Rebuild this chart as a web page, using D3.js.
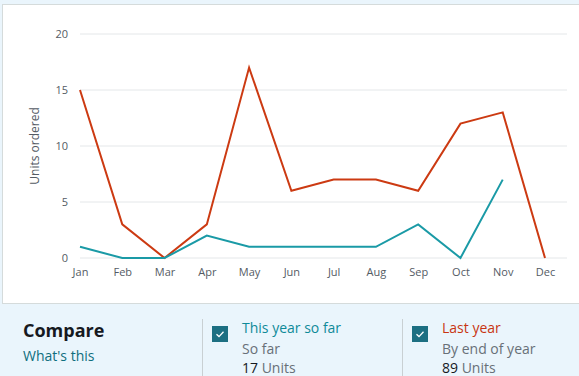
<!DOCTYPE html>
<html lang="en">
<head>
<meta charset="utf-8">
<title>Units ordered</title>
<style>
  body { margin:0; background:#eaf5fc; font-family:"Open Sans", sans-serif; width:579px; height:376px; overflow:hidden; position:relative; }
  .panel { position:absolute; left:2px; top:4px; width:600px; height:298px; background:#fff; border:1px solid #d5dbdb; }
  .chart { position:absolute; left:0; top:0; }
  .axis text { font:11px "Open Sans", sans-serif; fill:#545b64; }
  .grid line { stroke:#e4e7e9; }
  .foot { position:absolute; top:304px; left:0; width:579px; height:72px; }
  .foot .title { position:absolute; left:23px; top:14px; font:bold 18px "Open Sans", sans-serif; color:#16191f; }
  .foot .link { position:absolute; left:23px; top:42px; font:14px "Open Sans", sans-serif; color:#0f6e7e; }
  .div { position:absolute; top:15px; width:1px; height:60px; background:#c9d0d3; }
  .box { position:absolute; top:22px; width:16px; height:16px; background:#1c6f82; }
  .box svg { display:block; }
  .lbl { position:absolute; font:14px "Open Sans", sans-serif; white-space:nowrap; }
</style>
</head>
<body>
<div class="panel"></div>
<svg class="chart" width="579" height="304"></svg>
<div class="foot"></div>
<script src="https://cdnjs.cloudflare.com/ajax/libs/d3/7.8.5/d3.min.js"></script>
<script>
var months = ["Jan","Feb","Mar","Apr","May","Jun","Jul","Aug","Sep","Oct","Nov","Dec"];
var lastYear = [15,3,0,3,17,6,7,7,6,12,13,0];
var thisYear = [1,0,0,2,1,1,1,1,3,0,7];
var yTicks = [0,5,10,15,20];

var svg = d3.select(".chart");
var x = d3.scalePoint().domain(months).range([80, 545]);
var y = d3.scaleLinear().domain([0, 20]).range([258, 34]);

// grid
svg.append("g").attr("class", "grid")
  .selectAll("line").data(yTicks).enter().append("line")
  .attr("x1", 80).attr("x2", 567)
  .attr("y1", function(d){ return y(d); }).attr("y2", function(d){ return y(d); })
  .attr("stroke", function(d){ return d === 0 ? "#c9d3dc" : "#e4e7e9"; });

// y axis labels
var yAxis = svg.append("g").attr("class", "axis").attr("transform", "translate(68,0)")
  .call(d3.axisLeft(y).tickValues(yTicks).tickSize(0).tickPadding(0));
yAxis.select(".domain").remove();

var xAxis = svg.append("g").attr("class", "axis").attr("transform", "translate(0,265)")
  .call(d3.axisBottom(x).tickSize(0).tickPadding(3));
xAxis.select(".domain").remove();

svg.append("text")
  .attr("transform", "translate(39,146) rotate(-90)")
  .attr("text-anchor", "middle")
  .style("font", "12px 'Open Sans', sans-serif")
  .attr("fill", "#545b64")
  .text("Units ordered");

var line = d3.line()
  .x(function(d, i){ return x(months[i]); })
  .y(function(d){ return y(d); });

svg.append("path").datum(lastYear).attr("d", line)
  .attr("fill", "none").attr("stroke", "#cc3a12").attr("stroke-width", 2);
svg.append("path").datum(thisYear).attr("d", line)
  .attr("fill", "none").attr("stroke", "#1a9aa6").attr("stroke-width", 2);

// compare footer
var foot = d3.select(".foot");
foot.append("div").attr("class", "title").text("Compare");
foot.append("div").attr("class", "link").text("What's this");

var legend = [
  {x:202, name:"This year so far", color:"#0e8a99", sub:"So far", total:17},
  {x:402, name:"Last year", color:"#c83513", sub:"By end of year", total:89}
];
legend.forEach(function(l){
  foot.append("div").attr("class", "div").style("left", l.x + "px");
  var b = foot.append("div").attr("class", "box").style("left", (l.x + 10) + "px");
  var s = b.append("svg").attr("width", 16).attr("height", 16);
  s.append("path").attr("d", "M4.5 8.3 L7 10.6 L11.5 5.8").attr("fill", "none")
    .attr("stroke", "#fff").attr("stroke-width", 1.3);
  foot.append("div").attr("class", "lbl").style("left", (l.x + 40) + "px").style("top", "14px")
    .style("color", l.color).text(l.name);
  foot.append("div").attr("class", "lbl").style("left", (l.x + 40) + "px").style("top", "35px")
    .style("color", "#687078").text(l.sub);
  var t = foot.append("div").attr("class", "lbl").style("left", (l.x + 40) + "px").style("top", "54px");
  t.append("span").style("color", "#16191f").text(l.total + " ");
  t.append("span").style("color", "#687078").text("Units");
});
</script>
</body>
</html>
